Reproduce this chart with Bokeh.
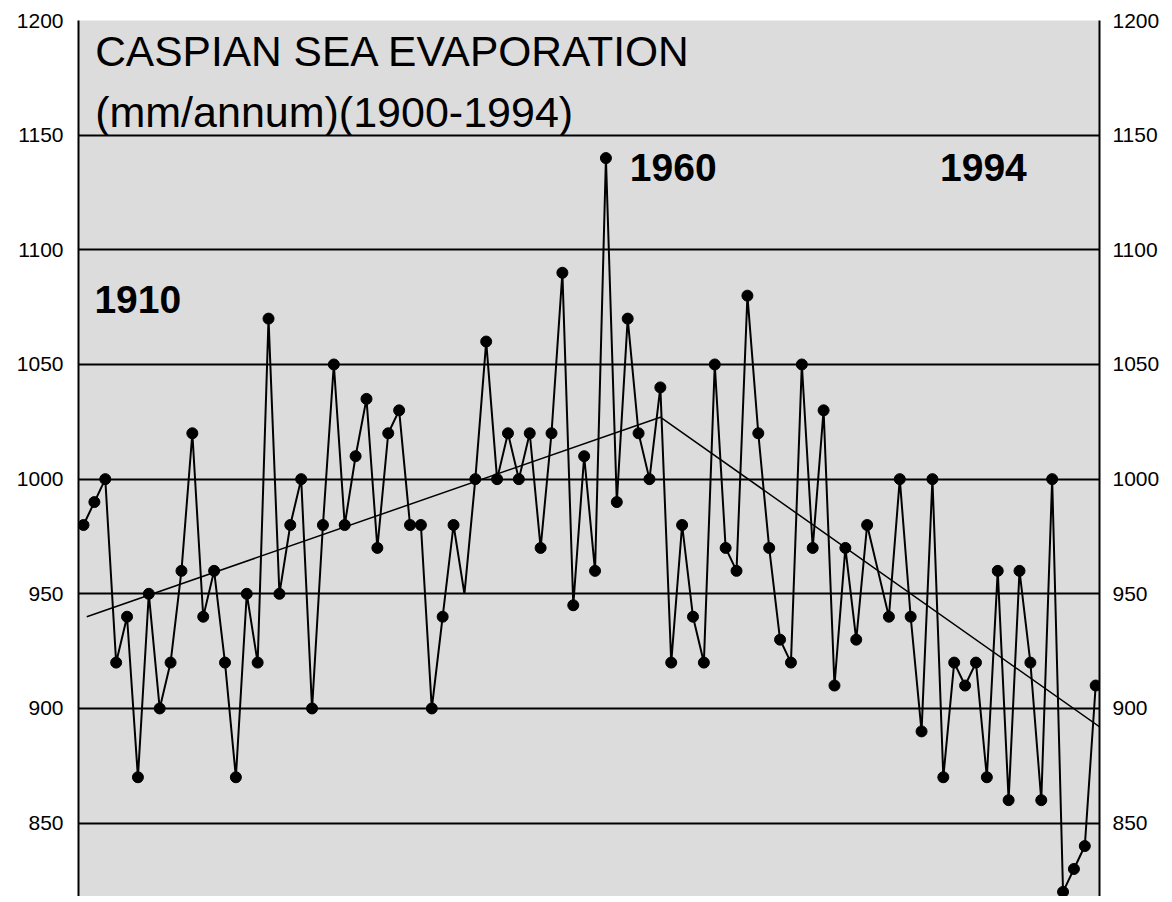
from bokeh.plotting import figure
from bokeh.models import LinearAxis, Range1d, FixedTicker, Grid, Label
from bokeh.embed import file_html
from bokeh.resources import INLINE

# ---- data ----
years = list(range(1901, 1995))
evaporation = [
    980, 990, 1000, 920, 940, 870, 950, 900, 920, 960,
    1020, 940, 960, 920, 870, 950, 920, 1070, 950, 980,
    1000, 900, 980, 1050, 980, 1010, 1035, 970, 1020, 1030,
    980, 980, 900, 940, 980, 950, 1000, 1060, 1000, 1020,
    1000, 1020, 970, 1020, 1090, 945, 1010, 960, 1140, 990,
    1070, 1020, 1000, 1040, 920, 980, 940, 920, 1050, 970,
    960, 1080, 1020, 970, 930, 920, 1050, 970, 1030, 910,
    970, 930, 980, 960, 940, 1000, 940, 890, 1000, 870,
    920, 910, 920, 870, 960, 860, 960, 920, 860, 1000,
    820, 830, 840, 910,
]
no_marker_years = [1936, 1974]
trend_years = [1901.3, 1954.0, 1995.1]
trend_values = [940, 1027, 889.5]
y_ticks = [850, 900, 950, 1000, 1050, 1100, 1150, 1200]
title_lines = ["CASPIAN SEA EVAPORATION", "(mm/annum)(1900-1994)"]
year_labels = ["1910", "1960", "1994"]

FONT = "Liberation Sans"

p = figure(
    width=1164, height=896,
    x_range=Range1d(1900.54, 1994.35), y_range=Range1d(818, 1200),
    x_axis_location=None, y_axis_location=None,
    toolbar_location=None, output_backend="svg",
    background_fill_color="#DCDCDC", border_fill_color="white",
    outline_line_color=None,
    min_border_left=78, min_border_right=65, min_border_top=20, min_border_bottom=0,
)
p.xgrid.visible = False
p.ygrid.visible = False

ticker = FixedTicker(ticks=y_ticks)
p.add_layout(Grid(dimension=1, ticker=ticker, grid_line_color="black", grid_line_width=2))

for side, standoff in (("left", 15), ("right", 13)):
    ax = LinearAxis(ticker=ticker)
    ax.axis_line_color = "black"
    ax.axis_line_width = 2
    ax.major_tick_line_color = None
    ax.minor_tick_line_color = None
    ax.major_tick_out = 0
    ax.major_tick_in = 0
    ax.major_label_standoff = standoff
    ax.major_label_text_font = FONT
    ax.major_label_text_font_size = "21px"
    ax.major_label_text_color = "black"
    p.add_layout(ax, side)

# trend line
p.line(trend_years, trend_values, line_color="black", line_width=1.5)

# data line
p.line(years, evaporation, line_color="black", line_width=2)

mk_x = [y for y in years if y not in no_marker_years]
mk_y = [v for y, v in zip(years, evaporation) if y not in no_marker_years]
p.scatter(mk_x, mk_y, size=11, color="black")

# title text
title_pos = [(1902.07, 1186.3), (1902.07, 1160.0)]
title_sizes = ["42.5px", "43px"]
for txt, (x, y), fs in zip(title_lines, title_pos, title_sizes):
    p.add_layout(Label(x=x, y=y, text=txt, text_font=FONT, text_font_size=fs,
                       text_color="black", text_baseline="alphabetic", text_align="left"))

label_pos = [(1902.0, 1078.3), (1951.2, 1135.7), (1979.7, 1135.7)]
for txt, (x, y) in zip(year_labels, label_pos):
    p.add_layout(Label(x=x, y=y, text=txt, text_font=FONT, text_font_size="39px",
                       text_font_style="bold", text_color="black", text_baseline="alphabetic",
                       text_align="left"))

open("out.html", "w").write(file_html(p, INLINE))
